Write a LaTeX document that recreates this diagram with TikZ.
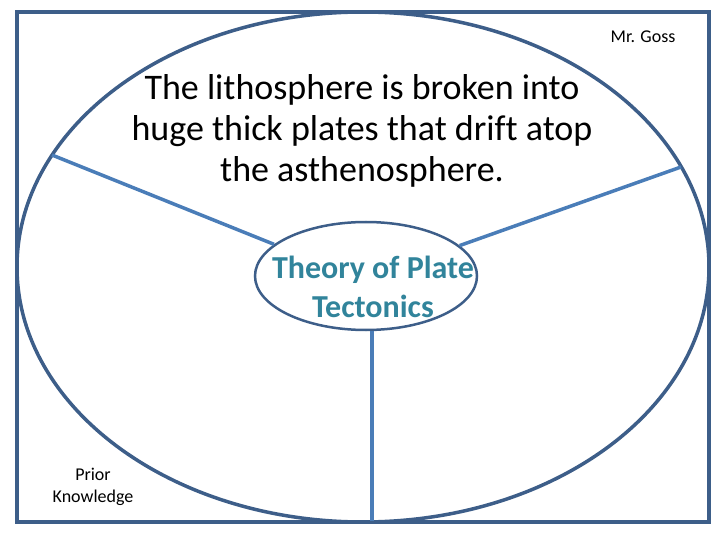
\documentclass[tikz,border=0pt]{standalone}
\usepackage{fontspec}
\setmainfont[Ligatures=NoCommon]{Carlito}
\usepackage{xcolor}
\usetikzlibrary{shapes.geometric}
\definecolor{FrameBlue}{HTML}{3D5E89}
\definecolor{SpokeBlue}{HTML}{4A7DB8}
\definecolor{TitleTeal}{HTML}{31849B}

\begin{document}
\begin{tikzpicture}[x=1pt, y=-1pt,
		frame/.style={line width=4.5pt, FrameBlue},
		spoke/.style={line width=3.5pt, SpokeBlue},
		every node/.style={align=center, inner sep=0pt}]
		
		\useasboundingbox (0,0) rectangle (720,540);
		
		% frame and big ellipse
		\draw[frame] (17,12) rectangle (709,522);
		\draw[frame, line width=3.5pt] (363,267) ellipse (346 and 255);
		
		% centre topic
		\node[ellipse, draw=FrameBlue, line width=2.5pt, minimum width=222pt, minimum height=108pt]
			(theory) at (366,276) {};
		\node[font=\fontsize{32}{39}\selectfont\bfseries, text=TitleTeal] (topic) at (373,287)
			{Theory of Plate\\Tectonics};
		
		% spoke ends on the big ellipse
		\coordinate (leftend) at (52,155);
		\coordinate (rightend) at (681,167);
		\coordinate (bottomend) at (372,521);
		
		\draw[spoke] (leftend) -- (theory.161);
		\draw[spoke] (rightend) -- (theory.18);
		\draw[spoke] (theory.south -| bottomend) -- (bottomend);
		
		% texts
		\node[font=\fontsize{36}{41}\selectfont] (fact) at (362,131)
			{The lithosphere is broken into\\huge thick plates that drift atop\\the asthenosphere.};
		\node[font=\fontsize{18}{20}\selectfont] (teacher) at (643,37) {Mr. Goss};
		\node[font=\fontsize{18}{22}\selectfont] (prior) at (93,487) {Prior\\Knowledge};
		
	\end{tikzpicture}
\end{document}
